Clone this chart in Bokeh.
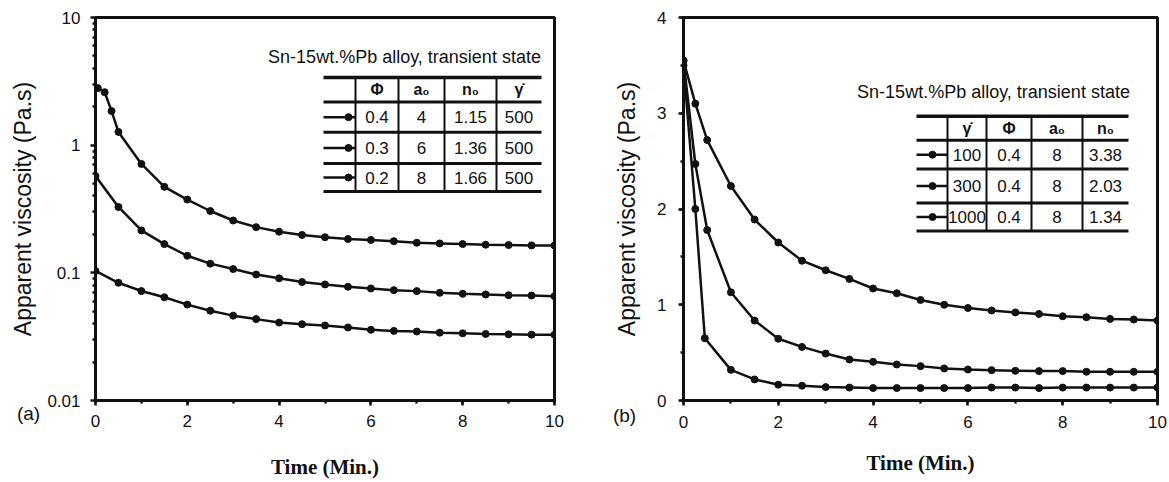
from bokeh.plotting import figure
from bokeh.layouts import row
from bokeh.models import Label, SingleIntervalTicker, FixedTicker, CustomJSTickFormatter
from bokeh.core.properties import value
from bokeh.embed import file_html
from bokeh.resources import INLINE

# ---------------- data: panel (a), shear rate 500, three solid fractions ----------------
time_a_04 = [0.05, 0.2, 0.35, 0.5, 1.0, 1.5, 2.0, 2.5, 3.0, 3.5, 4.0, 4.5, 5.0, 5.5,
             6.0, 6.5, 7.0, 7.5, 8.0, 8.5, 9.0, 9.5, 10.0]
visc_a_04 = [2.8, 2.6, 1.85, 1.27, 0.713, 0.472, 0.375, 0.305, 0.257, 0.228, 0.210, 0.198,
             0.190, 0.184, 0.181, 0.177, 0.172, 0.170, 0.168, 0.166, 0.165, 0.164, 0.164]

time_a = [0.0, 0.5, 1.0, 1.5, 2.0, 2.5, 3.0, 3.5, 4.0, 4.5, 5.0, 5.5, 6.0, 6.5, 7.0,
          7.5, 8.0, 8.5, 9.0, 9.5, 10.0]
visc_a_03 = [0.573, 0.328, 0.215, 0.168, 0.136, 0.118, 0.107, 0.097, 0.0906, 0.0847, 0.0811,
             0.0778, 0.0755, 0.0732, 0.0719, 0.0697, 0.0685, 0.0677, 0.0668, 0.0664, 0.0656]
visc_a_02 = [0.1035, 0.0836, 0.072, 0.0644, 0.0564, 0.0505, 0.0462, 0.0434, 0.0408, 0.0396,
             0.0387, 0.0373, 0.0358, 0.0351, 0.0347, 0.0340, 0.0336, 0.0332, 0.0330, 0.0328, 0.0327]

# ---------------- data: panel (b), solid fraction 0.4, three shear rates ----------------
time_b = [0.0, 0.25, 0.5, 1.0, 1.5, 2.0, 2.5, 3.0, 3.5, 4.0, 4.5, 5.0, 5.5, 6.0, 6.5,
          7.0, 7.5, 8.0, 8.5, 9.0, 9.5, 10.0]
visc_b_100 = [3.55, 3.10, 2.72, 2.24, 1.89, 1.65, 1.46, 1.36, 1.27, 1.17, 1.12, 1.05, 1.00,
              0.966, 0.94, 0.92, 0.904, 0.88, 0.87, 0.852, 0.846, 0.835]
visc_b_300 = [3.55, 2.47, 1.78, 1.13, 0.835, 0.645, 0.56, 0.49, 0.428, 0.404, 0.376, 0.359,
              0.335, 0.324, 0.317, 0.31, 0.307, 0.307, 0.30, 0.30, 0.30, 0.30]
time_b_1000 = [0.0, 0.25, 0.45, 1.0, 1.5, 2.0, 2.5, 3.0, 3.5, 4.0, 4.5, 5.0, 5.5, 6.0, 6.5,
               7.0, 7.5, 8.0, 8.5, 9.0, 9.5, 10.0]
visc_b_1000 = [3.5, 2.0, 0.65, 0.32, 0.22, 0.165, 0.155, 0.14, 0.135, 0.13, 0.13, 0.13, 0.13,
               0.13, 0.135, 0.135, 0.13, 0.135, 0.135, 0.135, 0.135, 0.135]

# ---------------- axis ticks and labels ----------------
x_range_min, x_range_max = 0, 10
a_y_ticks = [0.01, 0.1, 1, 10]
a_y_labels = ["0.01", "0.1", "1", "10"]
b_y_range = (0, 4)

# ---------------- legend tables ----------------
table_title = "Sn-15wt.%Pb alloy, transient state"
a_header = ["Φ", "a₀", "n₀", "γ̇"]
a_rows = [["0.4", "4", "1.15", "500"],
          ["0.3", "6", "1.36", "500"],
          ["0.2", "8", "1.66", "500"]]
b_header = ["γ̇", "Φ", "a₀", "n₀"]
b_rows = [["100", "0.4", "8", "3.38"],
          ["300", "0.4", "8", "2.03"],
          ["1000", "0.4", "8", "1.34"]]

SANS = "Liberation Sans"
SERIF = "Liberation Serif"
INK = "#111111"


def style_common(p, x_std, x_title_std, y_std, y_title_std):
    p.grid.visible = False
    p.outline_line_color = INK
    p.outline_line_width = 3
    p.outline_line_alpha = 1
    p.background_fill_color = "white"
    p.border_fill_color = "white"
    for ax in (p.xaxis[0], p.yaxis[0]):
        ax.axis_line_width = 3
        ax.axis_line_color = INK
        ax.major_tick_line_width = 2.5
        ax.major_tick_line_color = INK
        ax.minor_tick_line_width = 2.5
        ax.minor_tick_line_color = INK
        ax.major_tick_in = 0
        ax.major_tick_out = 5
        ax.minor_tick_in = 1
        ax.minor_tick_out = 3
        ax.major_label_text_font = SANS
        ax.major_label_text_font_size = "17px"
        ax.major_label_text_color = INK
    p.xaxis.ticker = SingleIntervalTicker(interval=2, num_minor_ticks=2)
    p.xaxis.major_label_standoff = x_std
    p.xaxis.axis_label = "Time (Min.)"
    p.xaxis.axis_label_text_font = SERIF
    p.xaxis.axis_label_text_font_style = "bold"
    p.xaxis.axis_label_text_font_size = "21px"
    p.xaxis.axis_label_text_color = INK
    p.xaxis.axis_label_standoff = x_title_std
    p.yaxis.major_label_standoff = y_std
    p.yaxis.axis_label = "Apparent viscosity (Pa.s)"
    p.yaxis.axis_label_text_font = SANS
    p.yaxis.axis_label_text_font_style = "normal"
    p.yaxis.axis_label_text_font_size = "23px"
    p.yaxis.axis_label_text_color = INK
    p.yaxis.axis_label_standoff = y_title_std


def draw_series(p, t, v):
    p.line(t, v, line_color=INK, line_width=2.5)
    p.scatter(t, v, marker="circle", size=7, fill_color=INK, line_color=INK)


def draw_table(p, fx, fy, title, title_xy, rule_x, rules_y, cols_x, header, rows, sample_x, marker_x):
    # title line above the table
    p.text(x=[fx(title_xy[0])], y=[fy(title_xy[1])], text=[title],
           text_font=value(SANS), text_font_size="18px", text_color=INK,
           text_align="center", text_baseline="middle")
    # horizontal rules
    x0, x1 = rule_x
    widths = [3.5] + [3] * (len(rules_y) - 1)
    p.segment(x0=[fx(x0)] * len(rules_y), y0=[fy(y) for y in rules_y],
              x1=[fx(x1)] * len(rules_y), y1=[fy(y) for y in rules_y],
              line_color=INK, line_width=widths)
    # vertical column separators
    vx = cols_x[:-1]
    p.segment(x0=[fx(x) for x in vx], y0=[fy(rules_y[0])] * len(vx),
              x1=[fx(x) for x in vx], y1=[fy(rules_y[-1])] * len(vx),
              line_color=INK, line_width=2)
    centers_x = [(cols_x[i] + cols_x[i + 1]) / 2 for i in range(len(cols_x) - 1)]
    centers_y = [(rules_y[i] + rules_y[i + 1]) / 2 for i in range(len(rules_y) - 1)]
    # header symbols
    p.text(x=[fx(c) for c in centers_x], y=[fy(centers_y[0])] * len(header), text=header,
           text_font=value(SANS), text_font_size="16px", text_font_style="bold",
           text_color=INK, text_align="center", text_baseline="middle")
    # body cells and line samples
    for r, cells in enumerate(rows):
        yc = fy(centers_y[r + 1])
        p.text(x=[fx(c) for c in centers_x], y=[yc] * len(cells), text=cells,
               text_font=value(SANS), text_font_size="17px", text_color=INK,
               text_align="center", text_baseline="middle")
        p.line([fx(sample_x[0]), fx(sample_x[1])], [yc, yc], line_color=INK, line_width=2.5)
        p.scatter([fx(marker_x)], [yc], marker="circle", size=7, fill_color=INK, line_color=INK)


# ---------------- panel (a) ----------------
pa = figure(width=580, height=482, x_range=(x_range_min, x_range_max), y_range=(0.01, 10),
            y_axis_type="log", output_backend="svg", toolbar_location=None,
            min_border_left=95, min_border_right=26, min_border_top=17, min_border_bottom=82)
style_common(pa, x_std=9, x_title_std=25, y_std=10, y_title_std=8)
pa.yaxis.ticker = FixedTicker(ticks=a_y_ticks,
                              minor_ticks=[m * d for d in (0.01, 0.1, 1) for m in range(2, 10)])
pa.yaxis.formatter = CustomJSTickFormatter(
    args=dict(vals=a_y_ticks, names=a_y_labels),
    code="const i = vals.findIndex(v => Math.abs(v - tick) <= 1e-9 * Math.max(1, Math.abs(v)));"
         " return i >= 0 ? names[i] : '';")

draw_series(pa, time_a_04, visc_a_04)
draw_series(pa, time_a, visc_a_03)
draw_series(pa, time_a, visc_a_02)


def ax_a(px):
    return (px - 95) / 459 * 10


def ay_a(py):
    return 10 ** (1 - (py - 17) / 383 * 3)


draw_table(pa, ax_a, ay_a, table_title, (404, 56), (323, 541),
           [77, 101.5, 131.8, 163, 191], [355, 398, 444, 496, 541],
           a_header, a_rows, (323, 355), 348)
# panel tag, kept in the right-hand border panel so it is not clipped by the frame
pa.add_layout(Label(x=28 - 554, y=400 - 413, x_units="screen", y_units="screen", text="(a)",
                    text_font=SANS, text_font_size="19px", text_color=INK,
                    text_align="center", text_baseline="middle"), "right")

# ---------------- panel (b) ----------------
pb = figure(width=589, height=482, x_range=(x_range_min, x_range_max), y_range=b_y_range,
            output_backend="svg", toolbar_location=None,
            min_border_left=103, min_border_right=12, min_border_top=16, min_border_bottom=82)
style_common(pb, x_std=10, x_title_std=20, y_std=12, y_title_std=14)
pb.yaxis.ticker = SingleIntervalTicker(interval=1, num_minor_ticks=2)

draw_series(pb, time_b, visc_b_100)
draw_series(pb, time_b, visc_b_300)
draw_series(pb, time_b_1000, visc_b_1000)


def bx(px):
    return (px - 683) / 474 * 10


def by(py):
    return 4 * (400 - py) / 384


draw_table(pb, bx, by, table_title, (993, 91), (916, 1128),
           [115, 139, 168, 202, 230], [947, 986, 1031, 1082, 1128],
           b_header, b_rows, (916, 947), 932)
pb.add_layout(Label(x=36, y=400 - 415, x_units="screen", y_units="screen", text="(b)",
                    text_font=SANS, text_font_size="19px", text_color=INK,
                    text_align="center", text_baseline="middle"), "left")

layout = row(pa, pb)
open("out.html", "w").write(file_html(layout, INLINE))
